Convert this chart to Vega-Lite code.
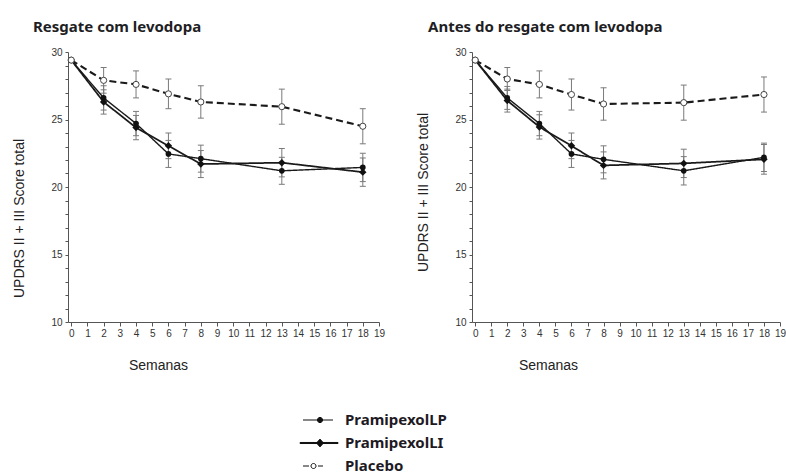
{
  "$schema": "https://vega.github.io/schema/vega-lite/v6.json",
  "background": "white",
  "padding": {"left": 12, "top": 20, "right": 0, "bottom": 0},
  "spacing": 41,
  "config": {
    "view": {"stroke": null},
    "axis": {
      "grid": false,
      "labelFont": "Liberation Sans Narrow, Liberation Sans, sans-serif",
      "labelFontSize": 10,
      "labelColor": "#333333",
      "labelOverlap": false,
      "labelFlush": false,
      "domainColor": "#555555",
      "tickColor": "#555555",
      "titleFont": "Liberation Sans, sans-serif",
      "titleFontSize": 14,
      "titleFontWeight": "normal",
      "titleColor": "#222222"
    },
    "axisX": {"tickSize": 4, "labelPadding": 2, "titleY": 43, "titleBaseline": "middle", "titleAlign": "center"},
    "axisY": {"tickSize": 3, "labelPadding": 3, "titleX": -49, "titleAngle": -90, "titleBaseline": "middle", "titleAlign": "center"},
    "title": {"font": "Noto Sans", "fontSize": 15, "fontWeight": "bold", "color": "#1e1e24", "anchor": "start", "frame": "group"}
  },
  "datasets": {
    "resgate": [
      {"semana": 0, "serie": "PramipexolLP", "score": 29.4, "lo": null, "hi": null},
      {"semana": 2, "serie": "PramipexolLP", "score": 26.6, "lo": 25.7, "hi": 27.5},
      {"semana": 4, "serie": "PramipexolLP", "score": 24.7, "lo": 23.8, "hi": 25.6},
      {"semana": 6, "serie": "PramipexolLP", "score": 22.45, "lo": 21.45, "hi": 23.45},
      {"semana": 8, "serie": "PramipexolLP", "score": 22.1, "lo": 21.1, "hi": 23.1},
      {"semana": 13, "serie": "PramipexolLP", "score": 21.2, "lo": 20.2, "hi": 22.2},
      {"semana": 18, "serie": "PramipexolLP", "score": 21.45, "lo": 20.4, "hi": 22.5},
      {"semana": 0, "serie": "PramipexolLI", "score": 29.4, "lo": null, "hi": null},
      {"semana": 2, "serie": "PramipexolLI", "score": 26.3, "lo": 25.4, "hi": 27.2},
      {"semana": 4, "serie": "PramipexolLI", "score": 24.4, "lo": 23.5, "hi": 25.3},
      {"semana": 6, "serie": "PramipexolLI", "score": 23.05, "lo": 22.1, "hi": 24.0},
      {"semana": 8, "serie": "PramipexolLI", "score": 21.7, "lo": 20.7, "hi": 22.7},
      {"semana": 13, "serie": "PramipexolLI", "score": 21.8, "lo": 20.75, "hi": 22.85},
      {"semana": 18, "serie": "PramipexolLI", "score": 21.1, "lo": 20.05, "hi": 22.15},
      {"semana": 0, "serie": "Placebo", "score": 29.4, "lo": null, "hi": null},
      {"semana": 2, "serie": "Placebo", "score": 27.9, "lo": 26.95, "hi": 28.85},
      {"semana": 4, "serie": "Placebo", "score": 27.6, "lo": 26.6, "hi": 28.6},
      {"semana": 6, "serie": "Placebo", "score": 26.9, "lo": 25.8, "hi": 28.0},
      {"semana": 8, "serie": "Placebo", "score": 26.3, "lo": 25.1, "hi": 27.5},
      {"semana": 13, "serie": "Placebo", "score": 25.95, "lo": 24.65, "hi": 27.25},
      {"semana": 18, "serie": "Placebo", "score": 24.5, "lo": 23.2, "hi": 25.8}
    ],
    "antes": [
      {"semana": 0, "serie": "PramipexolLP", "score": 29.4, "lo": null, "hi": null},
      {"semana": 2, "serie": "PramipexolLP", "score": 26.6, "lo": 25.75, "hi": 27.45},
      {"semana": 4, "serie": "PramipexolLP", "score": 24.7, "lo": 23.8, "hi": 25.6},
      {"semana": 6, "serie": "PramipexolLP", "score": 22.45, "lo": 21.45, "hi": 23.45},
      {"semana": 8, "serie": "PramipexolLP", "score": 22.05, "lo": 21.05, "hi": 23.05},
      {"semana": 13, "serie": "PramipexolLP", "score": 21.2, "lo": 20.15, "hi": 22.25},
      {"semana": 18, "serie": "PramipexolLP", "score": 22.2, "lo": 21.15, "hi": 23.25},
      {"semana": 0, "serie": "PramipexolLI", "score": 29.4, "lo": null, "hi": null},
      {"semana": 2, "serie": "PramipexolLI", "score": 26.4, "lo": 25.55, "hi": 27.25},
      {"semana": 4, "serie": "PramipexolLI", "score": 24.45, "lo": 23.55, "hi": 25.35},
      {"semana": 6, "serie": "PramipexolLI", "score": 23.05, "lo": 22.1, "hi": 24.0},
      {"semana": 8, "serie": "PramipexolLI", "score": 21.6, "lo": 20.6, "hi": 22.6},
      {"semana": 13, "serie": "PramipexolLI", "score": 21.75, "lo": 20.7, "hi": 22.8},
      {"semana": 18, "serie": "PramipexolLI", "score": 22.05, "lo": 20.95, "hi": 23.15},
      {"semana": 0, "serie": "Placebo", "score": 29.4, "lo": null, "hi": null},
      {"semana": 2, "serie": "Placebo", "score": 28.0, "lo": 27.15, "hi": 28.85},
      {"semana": 4, "serie": "Placebo", "score": 27.6, "lo": 26.6, "hi": 28.6},
      {"semana": 6, "serie": "Placebo", "score": 26.85, "lo": 25.7, "hi": 28.0},
      {"semana": 8, "serie": "Placebo", "score": 26.15, "lo": 24.95, "hi": 27.35},
      {"semana": 13, "serie": "Placebo", "score": 26.25, "lo": 24.95, "hi": 27.55},
      {"semana": 18, "serie": "Placebo", "score": 26.85, "lo": 25.55, "hi": 28.15}
    ],
    "legenda": [
      {"serie": "PramipexolLP"},
      {"serie": "PramipexolLI"},
      {"serie": "Placebo"}
    ]
  },
  "vconcat": [
    {
      "spacing": 31,
      "hconcat": [
        {
          "width": 311,
          "height": 270,
          "title": {"text": "Resgate com levodopa", "dx": -35, "offset": 12},
          "data": {"name": "resgate"},
          "encoding": {
            "x": {
              "field": "semana", "type": "quantitative",
              "scale": {"domain": [-0.2, 19], "nice": false, "zero": false},
              "axis": {
                "title": "Semanas", "titleX": 90,
                "values": [0, 1, 2, 3, 4, 5, 6, 7, 8, 9, 10, 11, 12, 13, 14, 15, 16, 17, 18, 19]
              }
            },
            "xOffset": {
              "field": "serie", "type": "nominal",
              "scale": {"type": "point", "domain": ["Placebo", "PramipexolLP", "PramipexolLI"], "range": [-4, 3.5], "padding": 0}
            }
          },
          "layer": [
            {
              "mark": {"type": "rule", "color": "#7a7a7a", "strokeWidth": 1},
              "encoding": {
                "y": {
                  "field": "lo", "type": "quantitative",
                  "scale": {"domain": [10, 30], "nice": false, "zero": false},
                  "axis": {"title": "UPDRS II + III  Score total", "titleY": 166, "values": [10, 11, 12, 13, 14, 15, 16, 17, 18, 19, 20, 21, 22, 23, 24, 25, 26, 27, 28, 29, 30], "labelExpr": "datum.value % 5 === 0 ? datum.label : ''"}
                },
                "y2": {"field": "hi"}
              }
            },
            {
              "mark": {"type": "tick", "orient": "horizontal", "size": 6, "thickness": 1, "color": "#7a7a7a", "opacity": 1},
              "encoding": {
                "y": {
                  "field": "hi", "type": "quantitative",
                  "axis": {"title": "UPDRS II + III  Score total", "titleY": 166, "values": [10, 11, 12, 13, 14, 15, 16, 17, 18, 19, 20, 21, 22, 23, 24, 25, 26, 27, 28, 29, 30], "labelExpr": "datum.value % 5 === 0 ? datum.label : ''"}
                }
              }
            },
            {
              "mark": {"type": "tick", "orient": "horizontal", "size": 6, "thickness": 1, "color": "#7a7a7a", "opacity": 1},
              "encoding": {
                "y": {
                  "field": "lo", "type": "quantitative",
                  "axis": {"title": "UPDRS II + III  Score total", "titleY": 166, "values": [10, 11, 12, 13, 14, 15, 16, 17, 18, 19, 20, 21, 22, 23, 24, 25, 26, 27, 28, 29, 30], "labelExpr": "datum.value % 5 === 0 ? datum.label : ''"}
                }
              }
            },
            {
              "mark": {"type": "line", "color": "#1a1a1a"},
              "encoding": {
                "y": {
                  "field": "score", "type": "quantitative",
                  "axis": {"title": "UPDRS II + III  Score total", "titleY": 166, "values": [10, 11, 12, 13, 14, 15, 16, 17, 18, 19, 20, 21, 22, 23, 24, 25, 26, 27, 28, 29, 30], "labelExpr": "datum.value % 5 === 0 ? datum.label : ''"}
                },
                "detail": {"field": "serie"},
                "strokeDash": {
                  "field": "serie", "type": "nominal",
                  "scale": {"domain": ["PramipexolLP", "PramipexolLI", "Placebo"], "range": [[1, 0], [1, 0], [7, 4]]},
                  "legend": null
                },
                "strokeWidth": {
                  "field": "serie", "type": "nominal",
                  "scale": {"domain": ["PramipexolLP", "PramipexolLI", "Placebo"], "range": [1.4, 2.1, 1.5]},
                  "legend": null
                }
              }
            },
            {
              "transform": [{"filter": "datum.serie === 'PramipexolLP'"}],
              "mark": {"type": "point", "shape": "circle", "filled": true, "size": 32, "color": "#111111", "opacity": 1},
              "encoding": {
                "y": {
                  "field": "score", "type": "quantitative",
                  "axis": {"title": "UPDRS II + III  Score total", "titleY": 166, "values": [10, 11, 12, 13, 14, 15, 16, 17, 18, 19, 20, 21, 22, 23, 24, 25, 26, 27, 28, 29, 30], "labelExpr": "datum.value % 5 === 0 ? datum.label : ''"}
                }
              }
            },
            {
              "transform": [{"filter": "datum.serie === 'PramipexolLI'"}],
              "mark": {"type": "point", "shape": "diamond", "filled": true, "size": 55, "color": "#111111", "opacity": 1},
              "encoding": {
                "y": {
                  "field": "score", "type": "quantitative",
                  "axis": {"title": "UPDRS II + III  Score total", "titleY": 166, "values": [10, 11, 12, 13, 14, 15, 16, 17, 18, 19, 20, 21, 22, 23, 24, 25, 26, 27, 28, 29, 30], "labelExpr": "datum.value % 5 === 0 ? datum.label : ''"}
                }
              }
            },
            {
              "transform": [{"filter": "datum.serie === 'Placebo'"}],
              "mark": {"type": "point", "shape": "circle", "filled": false, "fill": "white", "stroke": "#444444", "strokeWidth": 1, "size": 38, "opacity": 1},
              "encoding": {
                "y": {
                  "field": "score", "type": "quantitative",
                  "axis": {"title": "UPDRS II + III  Score total", "titleY": 166, "values": [10, 11, 12, 13, 14, 15, 16, 17, 18, 19, 20, 21, 22, 23, 24, 25, 26, 27, 28, 29, 30], "labelExpr": "datum.value % 5 === 0 ? datum.label : ''"}
                }
              }
            }
          ]
        },
        {
          "width": 308,
          "height": 270,
          "title": {"text": "Antes do resgate com levodopa", "dx": -44, "offset": 12},
          "data": {"name": "antes"},
          "encoding": {
            "x": {
              "field": "semana", "type": "quantitative",
              "scale": {"domain": [-0.2, 19], "nice": false, "zero": false},
              "axis": {
                "title": "Semanas", "titleX": 76,
                "values": [0, 1, 2, 3, 4, 5, 6, 7, 8, 9, 10, 11, 12, 13, 14, 15, 16, 17, 18, 19]
              }
            },
            "xOffset": {
              "field": "serie", "type": "nominal",
              "scale": {"type": "point", "domain": ["Placebo", "PramipexolLP", "PramipexolLI"], "range": [-4, 3.5], "padding": 0}
            }
          },
          "layer": [
            {
              "mark": {"type": "rule", "color": "#7a7a7a", "strokeWidth": 1},
              "encoding": {
                "y": {
                  "field": "lo", "type": "quantitative",
                  "scale": {"domain": [10, 30], "nice": false, "zero": false},
                  "axis": {"title": "UPDRS II + III  Score total", "titleY": 140, "values": [10, 11, 12, 13, 14, 15, 16, 17, 18, 19, 20, 21, 22, 23, 24, 25, 26, 27, 28, 29, 30], "labelExpr": "datum.value % 5 === 0 ? datum.label : ''"}
                },
                "y2": {"field": "hi"}
              }
            },
            {
              "mark": {"type": "tick", "orient": "horizontal", "size": 6, "thickness": 1, "color": "#7a7a7a", "opacity": 1},
              "encoding": {
                "y": {
                  "field": "hi", "type": "quantitative",
                  "axis": {"title": "UPDRS II + III  Score total", "titleY": 140, "values": [10, 11, 12, 13, 14, 15, 16, 17, 18, 19, 20, 21, 22, 23, 24, 25, 26, 27, 28, 29, 30], "labelExpr": "datum.value % 5 === 0 ? datum.label : ''"}
                }
              }
            },
            {
              "mark": {"type": "tick", "orient": "horizontal", "size": 6, "thickness": 1, "color": "#7a7a7a", "opacity": 1},
              "encoding": {
                "y": {
                  "field": "lo", "type": "quantitative",
                  "axis": {"title": "UPDRS II + III  Score total", "titleY": 140, "values": [10, 11, 12, 13, 14, 15, 16, 17, 18, 19, 20, 21, 22, 23, 24, 25, 26, 27, 28, 29, 30], "labelExpr": "datum.value % 5 === 0 ? datum.label : ''"}
                }
              }
            },
            {
              "mark": {"type": "line", "color": "#1a1a1a"},
              "encoding": {
                "y": {
                  "field": "score", "type": "quantitative",
                  "axis": {"title": "UPDRS II + III  Score total", "titleY": 140, "values": [10, 11, 12, 13, 14, 15, 16, 17, 18, 19, 20, 21, 22, 23, 24, 25, 26, 27, 28, 29, 30], "labelExpr": "datum.value % 5 === 0 ? datum.label : ''"}
                },
                "detail": {"field": "serie"},
                "strokeDash": {
                  "field": "serie", "type": "nominal",
                  "scale": {"domain": ["PramipexolLP", "PramipexolLI", "Placebo"], "range": [[1, 0], [1, 0], [7, 4]]},
                  "legend": null
                },
                "strokeWidth": {
                  "field": "serie", "type": "nominal",
                  "scale": {"domain": ["PramipexolLP", "PramipexolLI", "Placebo"], "range": [1.4, 2.1, 1.5]},
                  "legend": null
                }
              }
            },
            {
              "transform": [{"filter": "datum.serie === 'PramipexolLP'"}],
              "mark": {"type": "point", "shape": "circle", "filled": true, "size": 32, "color": "#111111", "opacity": 1},
              "encoding": {
                "y": {
                  "field": "score", "type": "quantitative",
                  "axis": {"title": "UPDRS II + III  Score total", "titleY": 140, "values": [10, 11, 12, 13, 14, 15, 16, 17, 18, 19, 20, 21, 22, 23, 24, 25, 26, 27, 28, 29, 30], "labelExpr": "datum.value % 5 === 0 ? datum.label : ''"}
                }
              }
            },
            {
              "transform": [{"filter": "datum.serie === 'PramipexolLI'"}],
              "mark": {"type": "point", "shape": "diamond", "filled": true, "size": 55, "color": "#111111", "opacity": 1},
              "encoding": {
                "y": {
                  "field": "score", "type": "quantitative",
                  "axis": {"title": "UPDRS II + III  Score total", "titleY": 140, "values": [10, 11, 12, 13, 14, 15, 16, 17, 18, 19, 20, 21, 22, 23, 24, 25, 26, 27, 28, 29, 30], "labelExpr": "datum.value % 5 === 0 ? datum.label : ''"}
                }
              }
            },
            {
              "transform": [{"filter": "datum.serie === 'Placebo'"}],
              "mark": {"type": "point", "shape": "circle", "filled": false, "fill": "white", "stroke": "#444444", "strokeWidth": 1, "size": 38, "opacity": 1},
              "encoding": {
                "y": {
                  "field": "score", "type": "quantitative",
                  "axis": {"title": "UPDRS II + III  Score total", "titleY": 140, "values": [10, 11, 12, 13, 14, 15, 16, 17, 18, 19, 20, 21, 22, 23, 24, 25, 26, 27, 28, 29, 30], "labelExpr": "datum.value % 5 === 0 ? datum.label : ''"}
                }
              }
            }
          ]
        }
      ]
    },
    {
      "width": 504,
      "height": 46,
      "data": {"name": "legenda"},
      "encoding": {
        "y": {
          "field": "serie", "type": "nominal",
          "scale": {"type": "point", "domain": ["PramipexolLP", "PramipexolLI", "Placebo"], "padding": 0},
          "axis": null
        }
      },
      "layer": [
        {
          "mark": {"type": "point", "filled": true, "size": 300, "stroke": "#111111", "strokeWidth": 1, "opacity": 1},
          "encoding": {
            "shape": {
              "field": "serie", "type": "nominal",
              "scale": {
                "domain": ["PramipexolLP", "PramipexolLI", "Placebo"],
                "range": [
                  "M-1.96,0H1.5M-0.3,0A0.3,0.3 0 1,0 0.3,0A0.3,0.3 0 1,0 -0.3,0",
                  "M-2.3,-0.06H2.08V0.06H-2.3ZM0,-0.45L0.4,0L0,0.45L-0.4,0Z",
                  "M-1.96,0H-1.27M-0.23,0H0.35M-1.04,0A0.29,0.29 0 1,0 -0.46,0A0.29,0.29 0 1,0 -1.04,0"
                ]
              },
              "legend": null
            },
            "fill": {
              "field": "serie", "type": "nominal",
              "scale": {"domain": ["PramipexolLP", "PramipexolLI", "Placebo"], "range": ["#111111", "#111111", "#ffffff"]},
              "legend": null
            }
          }
        },
        {
          "mark": {"type": "text", "align": "left", "baseline": "middle", "dx": 25, "font": "Noto Sans", "fontSize": 15, "fontWeight": "bold", "color": "#1e1a24"},
          "encoding": {"text": {"field": "serie"}}
        }
      ]
    }
  ]
}
